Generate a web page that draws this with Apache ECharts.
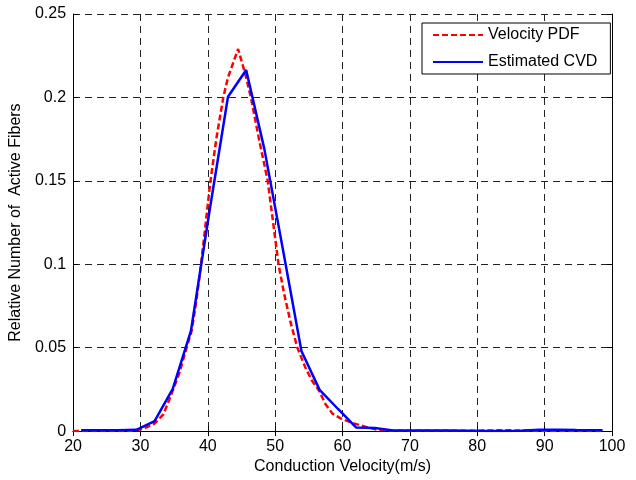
<!DOCTYPE html>
<html>
<head>
<meta charset="utf-8">
<script src="https://cdn.jsdelivr.net/npm/echarts@6/dist/echarts.min.js"></script>
<style>
  html, body { margin: 0; padding: 0; background: #fff; }
  #chart { width: 636px; height: 480px; }
</style>
</head>
<body>
<div id="chart"></div>
<script>
// velocity values (m/s) and relative counts
var pdfX = [20, 22, 24, 26, 28, 29.4, 30.5, 32.1, 33.4, 34.5, 35.8, 37.0, 37.6, 38.3, 39.0, 39.7, 40.4, 41.3, 42.3, 43.0, 44.5,
    45.5, 46.4, 47.6, 48.9, 49.7, 50.5, 51.3, 52.3, 53.3, 54.5, 55.5, 56.5, 57.5, 58.5, 60.0, 61.8, 63.5, 65, 67, 70,
    75, 80, 82, 84, 86, 88, 90, 94, 98.6];
var pdfY = [0, 0, 0, 0, 0, 0.0005, 0.0015, 0.0045, 0.010, 0.021, 0.035, 0.052, 0.060, 0.078, 0.100, 0.125, 0.150, 0.176, 0.200, 0.212, 0.229,
    0.215, 0.200, 0.175, 0.150, 0.125, 0.100, 0.083, 0.065, 0.050, 0.038, 0.030, 0.0243, 0.016, 0.0105, 0.007, 0.0045, 0.0025, 0.001, 0.0003, 0.0002,
    0.0002, 0.0002, 0.0004, 0.0005, 0.0004, 0.0002, 0, 0, 0];

var cvdX = [21.2, 23.9, 26.6, 29.4, 32.1, 34.8, 37.5, 40.3, 43.0, 45.7, 48.4, 51.1, 53.9, 56.6, 59.3, 62.0, 64.8, 67.5,
    70.2, 72.9, 75.6, 78.4, 81.1, 83.8, 86.5, 89.2, 92.0, 94.7, 98.6];
var cvdY = [0.0005, 0.0005, 0.0005, 0.0008, 0.006, 0.0253, 0.060, 0.133, 0.2004, 0.2164, 0.169, 0.110, 0.048, 0.0247, 0.0134, 0.0022, 0.0018, 0.0003,
    0.0003, 0.0003, 0.0003, 0.0002, 0, 0, 0.0002, 0.0008, 0.0008, 0.0006, 0.0005];

var seriesNames = ['Velocity PDF', 'Estimated CVD'];
var xTitle = 'Conduction Velocity(m/s)';
var yTitle = 'Relative Number of  Active Fibers';

function pairs(xs, ys) {
    var out = [];
    for (var i = 0; i < xs.length; i++) {
        out.push([xs[i], ys[i]]);
    }
    return out;
}

var chart = echarts.init(document.getElementById('chart'), null, { renderer: 'canvas' });
var font = 'Liberation Sans, Arial, Helvetica, sans-serif';
var gridDash = { color: '#222', width: 1, type: [7, 5] };

var option = {
    animation: false,
    backgroundColor: '#fff',
    textStyle: { fontFamily: font },
    grid: { left: 72, right: 24, top: 14, bottom: 44 },
    legend: {
        orient: 'vertical',
        left: 422,
        top: 23,
        padding: [4, 13, 4, 10],
        itemWidth: 50,
        itemHeight: 14,
        itemGap: 11,
        backgroundColor: '#fff',
        borderColor: '#000',
        borderWidth: 1,
        borderRadius: 0,
        itemStyle: { opacity: 0 },
        textStyle: { fontSize: 16, color: '#000', fontFamily: font },
        data: seriesNames
    },
    xAxis: [{
        type: 'value',
        min: 20, max: 100, interval: 10,
        name: xTitle,
        nameLocation: 'middle',
        nameGap: 26,
        nameTextStyle: { fontSize: 16, color: '#000', fontFamily: font },
        axisLine: { lineStyle: { color: '#000', width: 1 } },
        axisTick: { inside: true, length: 5, lineStyle: { color: '#000' } },
        axisLabel: { color: '#000', fontSize: 16, margin: 7, fontFamily: font },
        splitLine: { show: true, lineStyle: gridDash }
    }, {
        type: 'value',
        position: 'top',
        min: 20, max: 100, interval: 10,
        axisLine: { show: true, lineStyle: { color: '#000', width: 1 } },
        axisTick: { show: true, inside: true, length: 5, lineStyle: { color: '#000' } },
        axisLabel: { show: false },
        splitLine: { show: false }
    }],
    yAxis: [{
        type: 'value',
        min: 0, max: 0.25, interval: 0.05,
        name: yTitle,
        nameLocation: 'middle',
        nameGap: 46,
        nameTextStyle: { fontSize: 16, color: '#000', fontFamily: font },
        axisLine: { show: true, lineStyle: { color: '#000', width: 1 } },
        axisTick: { show: true, inside: true, length: 5, lineStyle: { color: '#000' } },
        axisLabel: { color: '#000', fontSize: 16, margin: 7, fontFamily: font },
        splitLine: { show: true, lineStyle: gridDash }
    }, {
        type: 'value',
        position: 'right',
        min: 0, max: 0.25, interval: 0.05,
        axisLine: { show: true, lineStyle: { color: '#000', width: 1 } },
        axisTick: { show: true, inside: true, length: 5, lineStyle: { color: '#000' } },
        axisLabel: { show: false },
        splitLine: { show: false }
    }],
    series: [{
        name: seriesNames[0],
        type: 'line',
        showSymbol: false,
        symbol: 'none',
        color: '#ff0000',
        lineStyle: { color: '#ff0000', width: 2.5, type: [6, 3] },
        data: pairs(pdfX, pdfY),
        z: 3
    }, {
        name: seriesNames[1],
        type: 'line',
        showSymbol: false,
        symbol: 'none',
        color: '#0000ff',
        lineStyle: { color: '#0000ff', width: 2.5 },
        data: pairs(cvdX, cvdY),
        z: 4
    }]
};

chart.setOption(option);
window.addEventListener('resize', chart.resize);
</script>
</body>
</html>
